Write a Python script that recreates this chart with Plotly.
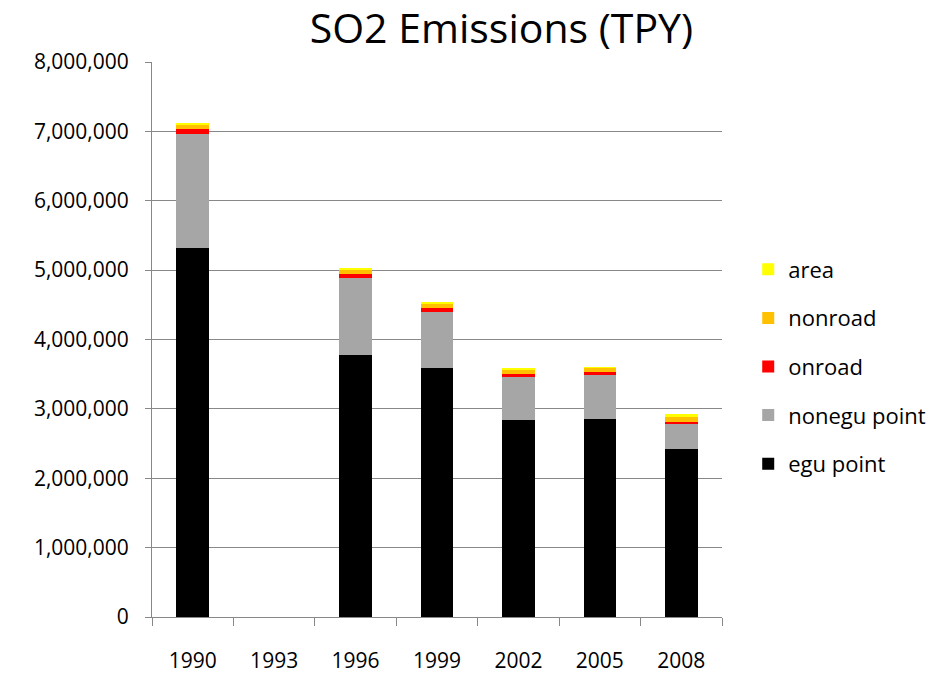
import plotly.graph_objects as go

years = ["1990", "1993", "1996", "1999", "2002", "2005", "2008"]
egu_point = [5320000, None, 3775000, 3590000, 2834000, 2857000, 2425000]
nonegu_point = [1640000, None, 1115000, 810000, 620000, 645000, 370000]
onroad = [72000, None, 49000, 48000, 43000, 25000, 20000]
nonroad = [70000, None, 74000, 74000, 74000, 69000, 63000]
area = [5000, None, 5000, 5000, 5000, 5000, 48000]

series = [
    ("egu point", egu_point, "#000000"),
    ("nonegu point", nonegu_point, "#A6A6A6"),
    ("onroad", onroad, "#FF0000"),
    ("nonroad", nonroad, "#FFC000"),
    ("area", area, "#FFFF00"),
]

font_family = "Open Sans, Liberation Sans, DejaVu Sans, sans-serif"

fig = go.Figure()
n = len(series)
for i, (name, vals, color) in enumerate(series):
    fig.add_trace(go.Bar(
        x=years, y=vals, name=name, legendrank=n - i, legendgroup=name,
        marker=dict(color=color, line=dict(width=0)),
    ))

fig.update_layout(
    template="none",
    width=939, height=673,
    barmode="stack", bargap=0.6,
    plot_bgcolor="white", paper_bgcolor="white",
    margin=dict(l=152, r=217, t=62, b=56, autoexpand=False),
    font=dict(family=font_family, size=21, color="black"),
    title=dict(text="SO2 Emissions (TPY)", x=0.534, xref="container", xanchor="center",
               y=0.958, yref="container", yanchor="middle",
               font=dict(size=41, family=font_family, color="black")),
    legend=dict(x=1.046, y=0.664, xanchor="left", yanchor="top",
                traceorder="grouped", tracegroupgap=17, itemwidth=30,
                font=dict(size=22, family=font_family)),
    xaxis=dict(type="category", categoryorder="array", categoryarray=years,
               automargin=False,
               showline=True, linecolor="#888888", linewidth=1,
               ticks="outside", tickson="boundaries", ticklen=8, tickcolor="#888888",
               ticklabelstandoff=25, showgrid=False,
               tickfont=dict(size=21)),
    yaxis=dict(range=[0, 8000000], dtick=1000000, tickformat=",",
               automargin=False,
               showline=True, linecolor="#888888", linewidth=1,
               ticks="outside", ticklen=6, tickcolor="#888888",
               ticklabelstandoff=12,
               showgrid=True, gridcolor="#888888", gridwidth=1,
               zeroline=False, tickfont=dict(size=21)),
)

fig.write_html("out.html", config={"displayModeBar": False},
               post_script="document.body.style.margin='0';document.body.style.overflow='hidden';")
